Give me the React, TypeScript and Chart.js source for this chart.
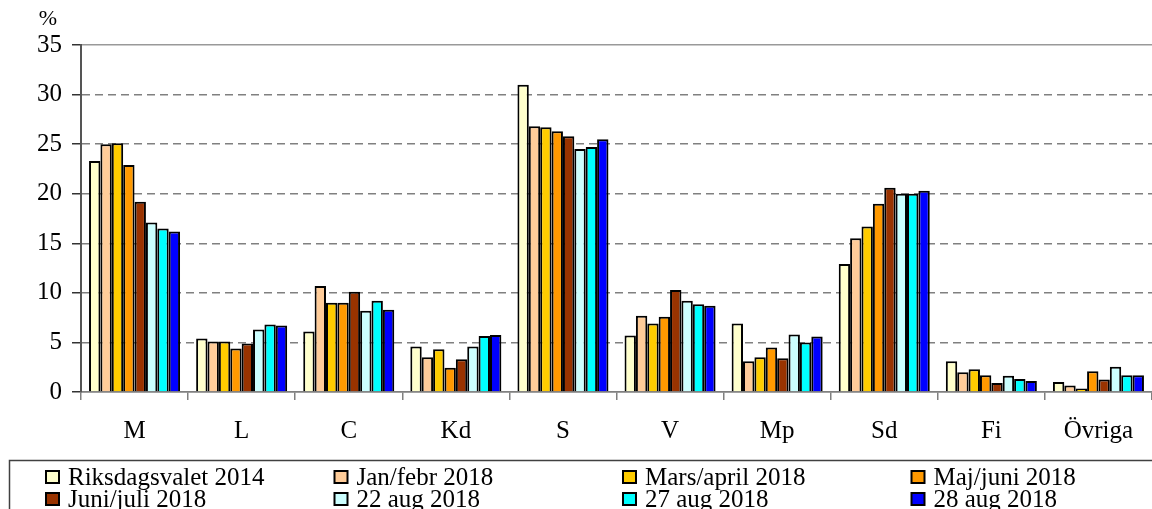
import React, { useEffect, useRef } from "react";
import { Chart, registerables } from "chart.js";

Chart.register(...registerables);

const categories = ["M", "L", "C", "Kd", "S", "V", "Mp", "Sd", "Fi", "Övriga"];

const seriesLabels = [
  "Riksdagsvalet 2014",
  "Jan/febr 2018",
  "Mars/april 2018",
  "Maj/juni 2018",
  "Juni/juli 2018",
  "22 aug 2018",
  "27 aug 2018",
  "28 aug 2018",
];

const seriesColors = ["#FFFFCC", "#FFCC99", "#FFCC00", "#FF9900", "#993300", "#CCFFFF", "#00FFFF", "#0000FF"];

const riksdagsvalet2014 = [23.3, 5.4, 6.1, 4.6, 31.0, 5.7, 6.9, 12.9, 3.1, 1.0];
const janFebr2018 = [25.0, 5.1, 10.7, 3.5, 26.8, 7.7, 3.1, 15.5, 2.0, 0.65];
const marsApril2018 = [25.1, 5.1, 9.0, 4.3, 26.7, 6.9, 3.5, 16.7, 2.3, 0.35];
const majJuni2018 = [22.9, 4.4, 9.0, 2.45, 26.3, 7.6, 4.5, 19.0, 1.7, 2.1];
const juniJuli2018 = [19.2, 4.9, 10.1, 3.3, 25.8, 10.3, 3.4, 20.6, 0.9, 1.25];
const aug22_2018 = [17.1, 6.3, 8.2, 4.6, 24.5, 9.2, 5.8, 20.0, 1.65, 2.55];
const aug27_2018 = [16.5, 6.8, 9.2, 5.65, 24.7, 8.85, 5.0, 20.0, 1.3, 1.7];
const aug28_2018 = [16.2, 6.7, 8.3, 5.75, 25.5, 8.7, 5.6, 20.3, 1.1, 1.7];

const seriesValues = [
  riksdagsvalet2014,
  janFebr2018,
  marsApril2018,
  majJuni2018,
  juniJuli2018,
  aug22_2018,
  aug27_2018,
  aug28_2018,
];

const yMin = 0;
const yMax = 35;
const yStep = 5;
const yUnit = "%";

const FONT = "'Liberation Serif', 'Times New Roman', serif";

const extrasPlugin = {
  id: "extras",
  afterDraw(chart: any) {
    const ctx = chart.ctx as CanvasRenderingContext2D;
    ctx.save();
    // unit label
    ctx.fillStyle = "#000";
    ctx.font = `22px ${FONT}`;
    ctx.textAlign = "center";
    ctx.textBaseline = "middle";
    ctx.fillText(yUnit, 48, 19);

    // legend frame
    ctx.strokeStyle = "#404040";
    ctx.lineWidth = 1.5;
    ctx.strokeRect(9.5, 460.5, 1170, 80);

    ctx.font = `25px ${FONT}`;
    ctx.textAlign = "left";
    ctx.textBaseline = "alphabetic";
    chart.data.datasets.forEach((ds: any, i: number) => {
      const col = i % 4;
      const row = Math.floor(i / 4);
      const x = 46 + col * 288.5;
      const yTop = 471 + row * 22;
      ctx.fillStyle = ds.backgroundColor;
      ctx.fillRect(x, yTop, 13, 12);
      ctx.strokeStyle = "#000";
      ctx.lineWidth = 2;
      ctx.strokeRect(x, yTop, 13, 12);
      ctx.fillStyle = "#000";
      ctx.fillText(ds.label, x + 22, yTop + 14);
    });
    ctx.restore();
  },
};

export default function App() {
  const ref = useRef<HTMLCanvasElement | null>(null);

  useEffect(() => {
    document.body.style.margin = "0";
    const canvas = ref.current;
    if (!canvas) return;
    const chart = new Chart(canvas, {
      type: "bar",
      data: {
        labels: categories,
        datasets: seriesLabels.map((label, i) => ({
          label,
          data: seriesValues[i],
          backgroundColor: seriesColors[i],
          borderColor: "#000000",
          borderWidth: 2,
          barPercentage: 1,
          categoryPercentage: 0.85,
        })),
      },
      options: {
        animation: false,
        responsive: false,
        maintainAspectRatio: false,
        layout: { padding: { top: 45, left: 0, right: 0, bottom: 0 } },
        plugins: {
          legend: { display: false },
          tooltip: { enabled: false },
          title: { display: false },
        },
        scales: {
          x: {
            offset: true,
            grid: {
              display: true,
              drawOnChartArea: false,
              drawTicks: true,
              tickLength: 8,
              color: "#808080",
              lineWidth: 1.5,
              offset: true,
            },
            border: { display: true, color: "#808080", width: 1.5 },
            ticks: {
              color: "#000",
              font: { family: FONT, size: 25 },
              padding: 16,
              maxRotation: 0,
              autoSkip: false,
            },
            afterFit: (scale: any) => {
              scale.height = 117;
            },
          },
          y: {
            min: yMin,
            max: yMax,
            ticks: {
              stepSize: yStep,
              color: "#000",
              font: { family: FONT, size: 25 },
              padding: 10,
            },
            grid: {
              color: (ctx: any) => (ctx.tick && ctx.tick.value === yMax ? "#999999" : "#808080"),
              tickColor: "#333333",
              lineWidth: 1.5,
              tickLength: 9,
              drawTicks: true,
            },
            border: {
              display: true,
              color: "#555555",
              width: 2,
              dash: (ctx: any) =>
                ctx.tick && (ctx.tick.value === yMax || ctx.tick.value === yMin) ? [] : [8, 5],
            },
            afterFit: (scale: any) => {
              scale.width = 81;
            },
          },
        },
      },
      plugins: [extrasPlugin],
    });
    return () => chart.destroy();
  }, []);

  return (
    <div style={{ position: "absolute", left: 0, top: 0 }}>
      <canvas ref={ref} width={1152} height={509} style={{ display: "block", width: 1152, height: 509 }} />
    </div>
  );
}
